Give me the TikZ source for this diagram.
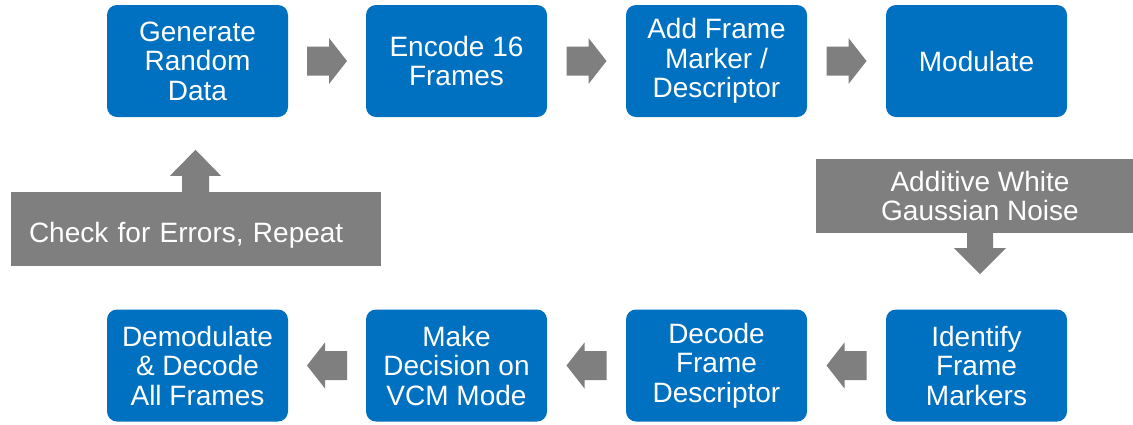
\documentclass[tikz,border=0pt]{standalone}
\usepackage{fontspec}
\setmainfont{Liberation Sans}
\usetikzlibrary{calc}
\definecolor{boxblue}{HTML}{0070C0}
\definecolor{arrowgray}{HTML}{7F7F7F}
\tikzset{
  stepbox/.style={rectangle, rounded corners=10pt, fill=boxblue, text=white,
    minimum width=181pt, minimum height=112pt, inner sep=0pt, align=center,
    font=\fontsize{28}{29.5}\selectfont},
  graybox/.style={rectangle, fill=arrowgray, text=white, inner sep=0pt,
    font=\fontsize{28}{29.5}\selectfont},
  pics/blkarrow/.style n args={4}{code={
    \fill[arrowgray] (0,-#3) -- ({#1-#2},-#3) -- ({#1-#2},-#4) -- (#1,0)
      -- ({#1-#2},#4) -- ({#1-#2},#3) -- (0,#3) -- cycle;}}
}
\begin{document}
\begin{tikzpicture}[x=1pt,y=-1pt]
\clip (0,0) rectangle (1133,424);
\fill[white] (0,0) rectangle (1133,424);
% top row
\node[stepbox] (gen) at (197.5,61) {Generate\\Random\\Data};
\node[stepbox] (enc) at (456.5,61) {Encode 16\\Frames};
\node[stepbox] (add) at (716.5,61) {Add Frame\\Marker /\\Descriptor};
\node[stepbox] (mod) at (976.5,61) {Modulate};
% bottom row
\node[stepbox] (dem) at (197.5,365.5) {Demodulate\\\& Decode\\All Frames};
\node[stepbox] (mak) at (456.5,365.5) {Make\\Decision on\\VCM Mode};
\node[stepbox] (dec) at (716.5,365.5) {Decode\\Frame\\Descriptor};
\node[stepbox] (idf) at (976.5,365.5) {Identify\\Frame\\Markers};
% callouts
\node[graybox, minimum width=370pt, minimum height=74pt, text width=334pt,
  inner xsep=18pt, align=left, text height=32.5pt, text depth=5.5pt]
  (chk) at (196,229) {Check for Errors, Repeat};
\node[graybox, minimum width=328pt, minimum height=74pt, align=center]
  (awgn) at (980,196) {Additive White\\Gaussian Noise};
% horizontal block arrows
\pic at ($(gen.east)!0.5!(enc.west)+(-20,0)$) {blkarrow={40}{18}{14.5}{23}};
\pic at ($(enc.east)!0.5!(add.west)+(-20,0)$) {blkarrow={40}{18}{14.5}{23}};
\pic at ($(add.east)!0.5!(mod.west)+(-20,0)$) {blkarrow={40}{18}{14.5}{23}};
\pic[rotate=180] at ($(idf.west)!0.5!(dec.east)+(20,0)$) {blkarrow={40}{18}{14.5}{23}};
\pic[rotate=180] at ($(dec.west)!0.5!(mak.east)+(20,0)$) {blkarrow={40}{18}{14.5}{23}};
\pic[rotate=180] at ($(mak.west)!0.5!(dem.east)+(20,0)$) {blkarrow={40}{18}{14.5}{23}};
% callout arrows
\pic[rotate=90] at ($(chk.north)+(-0.5,0)$) {blkarrow={42}{26}{13.5}{25.5}};
\pic[rotate=-90] at (awgn.south) {blkarrow={41}{26}{13}{26}};
\end{tikzpicture}
\end{document}
